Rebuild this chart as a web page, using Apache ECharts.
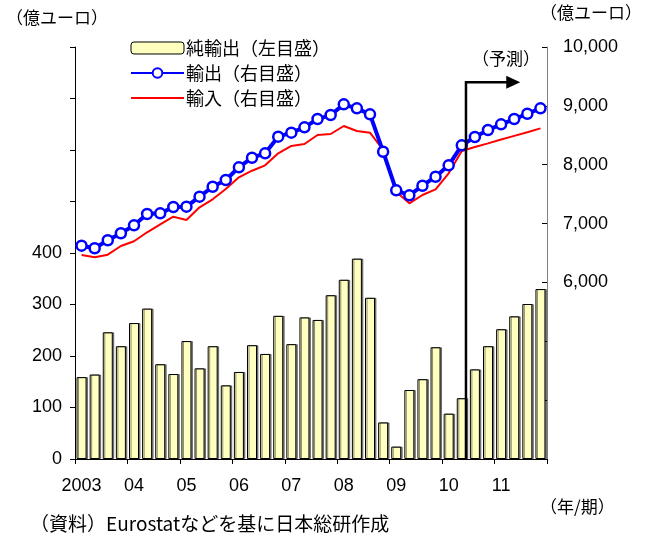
<!DOCTYPE html>
<html>
<head>
<meta charset="utf-8">
<script src="https://cdn.jsdelivr.net/npm/echarts@6/dist/echarts.min.js"></script>
<style>
html,body{margin:0;padding:0;background:#fff;}
#chart{width:649px;height:544px;}
</style>
</head>
<body>
<div id="chart"></div>
<script>
// Quarters 2003Q1 .. 2011Q4
const years = ['2003','04','05','06','07','08','09','10','11'];
const quarters = [];
for (let y = 2003; y <= 2011; y++) { for (let q = 1; q <= 4; q++) quarters.push(y + 'Q' + q); }

// 純輸出（左目盛）
const netExports = [159,164,246,219,264,292,184,165,229,176,219,143,169,221,204,278,223,275,
                    270,318,348,389,313,71,24,134,155,217,88,118,174,219,252,277,301,330];
// 輸出（右目盛）
const exportsV = [6624,6580,6716,6835,6970,7162,7174,7281,7287,7457,7626,7740,7956,8119,8194,8476,8544,8635,
                  8776,8844,9026,8958,8856,8221,7565,7480,7643,7796,7990,8329,8471,8590,8686,8776,8866,8958];
// 輸入（右目盛）
const importsV = [6466,6427,6471,6619,6699,6852,6987,7117,7061,7276,7412,7587,7786,7898,7990,8194,8318,8352,
                  8505,8522,8658,8573,8544,8250,7541,7344,7485,7582,7854,8233,8300,8362,8428,8490,8552,8618];

const leftTicks = ['0','100','200','300','400'];
const rightTicks = ['6,000','7,000','8,000','9,000','10,000'];
const forecastStart = 29; // 2010Q2

const FONT = "'Liberation Sans', 'Noto Sans CJK JP', sans-serif";
const JP = "'Noto Sans CJK JP', 'Liberation Sans', sans-serif";

const chart = echarts.init(document.getElementById('chart'), null, {renderer: 'canvas'});
const option = {
  animation: false,
  backgroundColor: '#fff',
  textStyle: {fontFamily: FONT, color: '#000'},
  grid: {left: 75, right: 102, top: 47, bottom: 85, containLabel: false},
  legend: {
    orient: 'vertical', left: 125, top: 34, itemWidth: 53, itemHeight: 12, itemGap: 7,
    textStyle: {fontFamily: JP, fontSize: 18, color: '#000', padding: [0,0,0,-3]},
    data: [
      {name: '純輸出（左目盛）', itemStyle: {borderWidth: 1, shadowOffsetX: 0, shadowColor: 'rgba(0,0,0,0)'}},
      {name: '輸出（右目盛）'},
      {name: '輸入（右目盛）', itemStyle: {opacity: 0}}
    ]
  },
  xAxis: {
    type: 'category', data: quarters, boundaryGap: true,
    axisLine: {lineStyle: {color: '#000', width: 1}},
    axisTick: {show: true, interval: 3, length: 5, inside: false, lineStyle: {color: '#000'}},
    axisLabel: {
      interval: 3, margin: 18, fontSize: 18, color: '#000', fontFamily: FONT,
      formatter: (v, i) => years[Math.floor(i / 4)]
    },
    splitLine: {show: false}
  },
  yAxis: [
    {
      type: 'value', min: 0, max: 800, interval: 100, position: 'left',
      axisLine: {show: true, lineStyle: {color: '#000'}},
      axisTick: {show: true, length: 5, inside: false, lineStyle: {color: '#000'}},
      axisLabel: {fontSize: 18, color: '#000', margin: 13, fontFamily: FONT,
        formatter: v => { const i = leftTicks.indexOf(String(v)); return i >= 0 ? leftTicks[i] : ''; }},
      splitLine: {show: false}
    },
    {
      type: 'value', min: 3000, max: 10000, interval: 1000, position: 'right',
      axisLine: {show: true, lineStyle: {color: '#808080'}},
      axisTick: {show: true, length: 5, inside: true, lineStyle: {color: '#000'}},
      axisLabel: {fontSize: 18, color: '#000', margin: 16, fontFamily: FONT,
        formatter: v => v >= 6000 ? rightTicks[(v - 6000) / 1000] : ''},
      splitLine: {show: false}
    }
  ],
  series: [
    {
      name: '純輸出（左目盛）', type: 'bar', xAxisIndex: 0, yAxisIndex: 0, data: netExports,
      barWidth: 10,
      itemStyle: {color: '#FFFFC0', borderColor: '#000', borderWidth: 1,
        shadowColor: 'rgba(0,0,0,0.45)', shadowOffsetX: 1.5, shadowOffsetY: 0, shadowBlur: 0},
      z: 2
    },
    {
      name: '輸入（右目盛）', type: 'line', yAxisIndex: 1, data: importsV,
      symbol: 'none', lineStyle: {color: '#FF0000', width: 2}, itemStyle: {color: '#FF0000'}, z: 3
    },
    {
      name: '輸出（右目盛）', type: 'line', yAxisIndex: 1, data: exportsV,
      symbol: 'circle', symbolSize: 10, showAllSymbol: true,
      lineStyle: {color: '#0000FF', width: 4},
      itemStyle: {color: '#FFFFFF', borderColor: '#0000FF', borderWidth: 2.5}, z: 4
    }
  ],
  graphic: [
    {type: 'text', left: 6, top: 9, style: {text: '（億ユーロ）', font: "17px 'Noto Sans CJK JP'", fill: '#000'}},
    {type: 'text', left: 540, top: 4, style: {text: '（億ユーロ）', font: "17px 'Noto Sans CJK JP'", fill: '#000'}},
    {type: 'text', left: 540, top: 498, style: {text: '（年/期）', font: "17px 'Noto Sans CJK JP'", fill: '#000'}},
    {type: 'text', left: 30, top: 514, style: {text: '（資料）Eurostatなどを基に日本総研作成', font: "19px 'Noto Sans CJK JP'", fill: '#000'}}
  ]
};
chart.setOption(option);

// Forecast annotation (bent arrow) placed through axis conversion
const p0 = chart.convertToPixel({xAxisIndex: 0}, forecastStart);
const p1 = chart.convertToPixel({xAxisIndex: 0}, forecastStart + 1);
const fx = p0 + (p1 - p0) * 0.32;
const topY = chart.convertToPixel({yAxisIndex: 1}, 9400);
const botY = chart.convertToPixel({yAxisIndex: 1}, 3000);
const tipX = chart.convertToPixel({xAxisIndex: 0}, forecastStart + 4) + 6;
chart.setOption({
  graphic: option.graphic.concat([
    {type: 'polyline', z: 10, shape: {points: [[fx, botY], [fx, topY], [tipX - 13, topY]]},
     style: {stroke: '#000', lineWidth: 2.5, fill: null}},
    {type: 'polygon', z: 10, shape: {points: [[tipX - 14, topY - 6.5], [tipX, topY], [tipX - 14, topY + 6.5]]},
     style: {fill: '#000'}},
    {type: 'text', z: 10, left: fx + 6, top: topY - 32, style: {text: '（予測）', font: "17px 'Noto Sans CJK JP'", fill: '#000'}}
  ])
});
</script>
</body>
</html>
